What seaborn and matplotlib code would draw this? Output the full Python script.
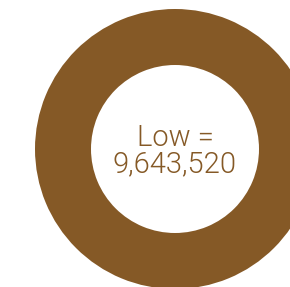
import matplotlib.pyplot as plt
import seaborn as sns

# data
labels = ['Low']
values = [9643520]
colors = ['#855926']

sns.set_style('white')
plt.rcParams['font.family'] = ['Roboto', 'DejaVu Sans']

fig = plt.figure(figsize=(2.9, 2.87), dpi=100)
# ring centre ~ (175, 149) px, outer radius ~140 px
ax = fig.add_axes([35 / 290, -2 / 287, 280 / 290, 280 / 287])
ax.pie(values, colors=colors, radius=1, startangle=90,
       wedgeprops=dict(width=0.4, edgecolor='none'))
ax.set_xlim(-1, 1)
ax.set_ylim(-1, 1)
ax.set_aspect('equal')
ax.axis('off')

ax.text(0, 0.075, f'{labels[0]} =', ha='center', va='center',
        fontsize=21, color=colors[0], fontweight=300)
ax.text(0, -0.11, f'{values[0]:,}', ha='center', va='center',
        fontsize=21, color=colors[0], fontweight=300)

fig.savefig('out.png', dpi=100)
